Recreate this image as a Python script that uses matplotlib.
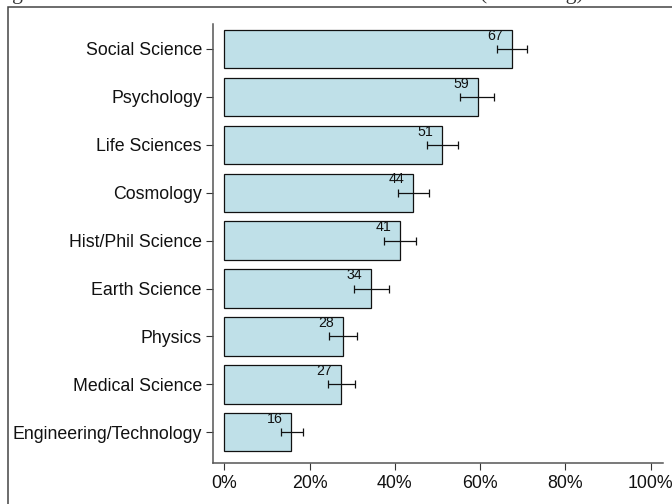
import matplotlib
matplotlib.use("Agg")
import matplotlib.pyplot as plt
from matplotlib.patches import Rectangle

# Share of respondents trusting each field, with confidence intervals (%)
fields = [
    "Social Science",
    "Psychology",
    "Life Sciences",
    "Cosmology",
    "Hist/Phil Science",
    "Earth Science",
    "Physics",
    "Medical Science",
    "Engineering/Technology",
]
share = [67.4, 59.4, 51.1, 44.3, 41.3, 34.4, 27.8, 27.4, 15.7]
ci_low = [64.0, 55.3, 47.5, 40.7, 37.5, 30.5, 24.6, 24.3, 13.2]
ci_high = [71.0, 63.3, 54.7, 47.9, 45.0, 38.6, 31.0, 30.7, 18.5]
x_ticks = [0, 20, 40, 60, 80, 100]
x_tick_labels = ["0%", "20%", "40%", "60%", "80%", "100%"]

plt.rcParams["font.family"] = ["Liberation Sans", "DejaVu Sans"]

W, H = 672, 504
fig = plt.figure(figsize=(W / 100, H / 100), dpi=100)

# Caption line above the panel (runs past the top edge)
fig.text(-6 / W, 1 + 0.5 / H,
         "Figure 4: Trust in scientists in each of the science fields (% trusting)",
         family=["Liberation Serif", "DejaVu Serif"], fontsize=15.6,
         color="#333333", ha="left", va="baseline")

# Panel frame
fig.patches.append(Rectangle((8 / W, -0.1), 1.2, 1 - 7 / H + 0.1,
                             transform=fig.transFigure, fill=False,
                             edgecolor="#444444", linewidth=1.1))

ax = fig.add_axes([213 / W, 41 / H, 449.7 / W, 439 / H])

pos = list(range(len(fields)))
ax.barh(pos, share, height=0.8, color="#BFE0E8", edgecolor="#111111",
        linewidth=0.9, zorder=2)

xerr = [[s - lo for s, lo in zip(share, ci_low)],
        [hi - s for s, hi in zip(share, ci_high)]]
ax.errorbar(share, pos, xerr=xerr, fmt="none", ecolor="#111111",
            elinewidth=0.9, capsize=2.6, capthick=0.9, zorder=3)

for p, s in zip(pos, share):
    ax.annotate(f"{round(s)}", xy=(s, p), xytext=(-12, 4.5),
                textcoords="offset points", ha="center", va="bottom",
                fontsize=10.2, color="#111111", zorder=4)

ax.set_ylim(8.64, -0.52)
ax.set_xlim(-2.65, 102.8)
ax.set_yticks(pos)
ax.set_yticklabels(fields, fontsize=12.8, color="#111111")
ax.set_xticks(x_ticks)
ax.set_xticklabels(x_tick_labels, fontsize=12.8, color="#111111")

for side in ("top", "right"):
    ax.spines[side].set_visible(False)
for side in ("left", "bottom"):
    ax.spines[side].set_color("#555555")
    ax.spines[side].set_linewidth(1.1)
ax.tick_params(axis="both", length=5, width=0.8, color="#333333")
ax.tick_params(axis="y", pad=3)
ax.tick_params(axis="x", pad=4)

fig.savefig("out.png", dpi=100)
